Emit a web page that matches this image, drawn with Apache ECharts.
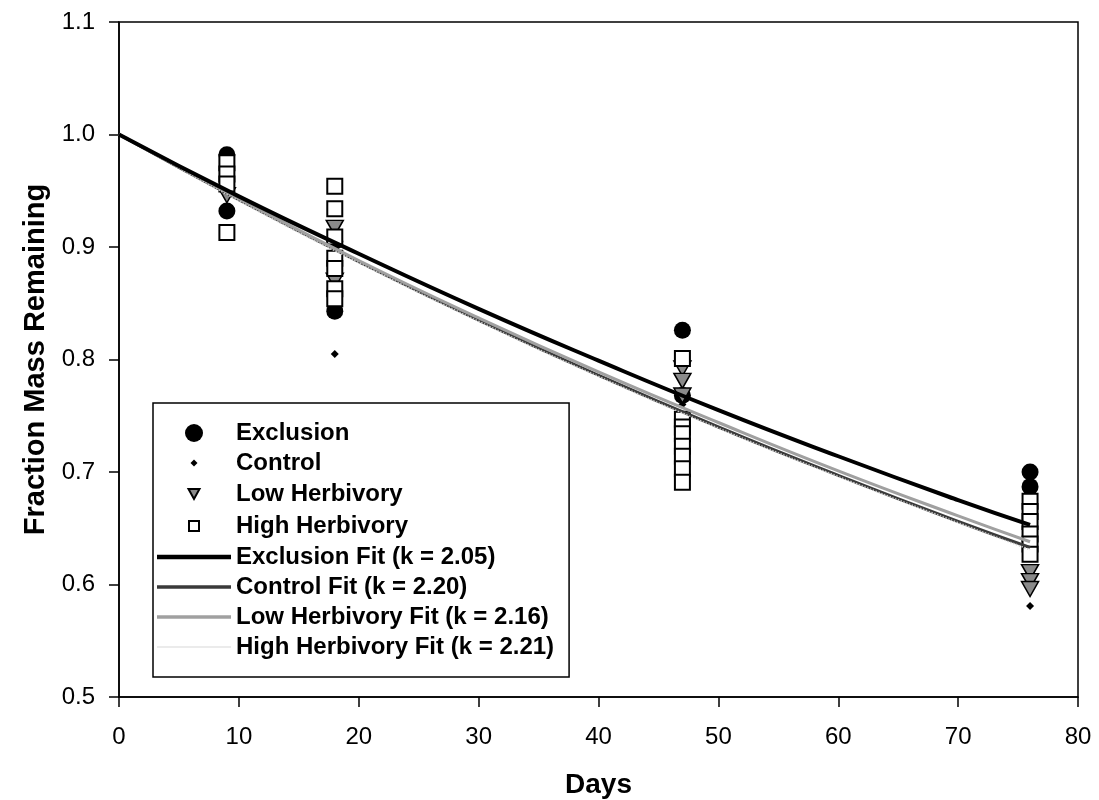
<!DOCTYPE html>
<html>
<head>
<meta charset="utf-8">
<script src="https://cdn.jsdelivr.net/npm/echarts@6/dist/echarts.min.js"></script>
<style>
html,body{margin:0;padding:0;background:#fff;}
#chart{width:1099px;height:800px;}
</style>
</head>
<body>
<div id="chart"></div>
<script>
// ---- data ----
var seriesNames = ['Exclusion', 'Control', 'Low Herbivory', 'High Herbivory',
  'Exclusion Fit (k = 2.05)', 'Control Fit (k = 2.20)', 'Low Herbivory Fit (k = 2.16)', 'High Herbivory Fit (k = 2.21)'];

var exclusionDays = [9, 9, 18, 18, 47, 47, 76, 76];
var exclusionMass = [0.982, 0.932, 0.905, 0.843, 0.826, 0.768, 0.700, 0.687];

var controlDays = [9, 18, 47, 76];
var controlMass = [0.955, 0.805, 0.760, 0.581];

var lowDays = [9, 18, 18, 47, 47, 47, 76, 76, 76];
var lowMass = [0.946, 0.917, 0.870, 0.792, 0.781, 0.768, 0.611, 0.603, 0.596];

var highDays = [9, 9, 9, 9, 18, 18, 18, 18, 18, 18, 18, 47, 47, 47, 47, 47, 47, 47, 47, 76, 76, 76, 76, 76, 76];
var highMass = [0.975, 0.965, 0.956, 0.913,
  0.954, 0.934, 0.909, 0.890, 0.881, 0.863, 0.854,
  0.801, 0.747, 0.740, 0.734, 0.723, 0.714, 0.703, 0.691,
  0.674, 0.665, 0.656, 0.645, 0.636, 0.627];

var fitDays = [0, 10, 20, 30, 40, 50, 60, 70, 76];
var exclusionFit = [1.000, 0.945, 0.894, 0.845, 0.799, 0.755, 0.714, 0.675, 0.653];
var controlFit   = [1.000, 0.942, 0.887, 0.835, 0.786, 0.740, 0.697, 0.656, 0.633];
var lowFit       = [1.000, 0.943, 0.888, 0.837, 0.789, 0.744, 0.701, 0.661, 0.638];
var highFit      = [1.000, 0.941, 0.886, 0.834, 0.785, 0.739, 0.696, 0.655, 0.631];

var xTicks = [0, 10, 20, 30, 40, 50, 60, 70, 80];
var yTicks = ['0.5', '0.6', '0.7', '0.8', '0.9', '1.0', '1.1'];

function pairs(xs, ys) { return xs.map(function (x, i) { return [x, ys[i]]; }); }

var FONT = "'Liberation Sans', Arial, sans-serif";
var triPath = 'path://M0,0 L20,0 L10,17 Z';

var chart = echarts.init(document.getElementById('chart'), null, { renderer: 'canvas' });

chart.setOption({
  animation: false,
  backgroundColor: '#ffffff',
  grid: {
    left: 119, right: 21, top: 22, bottom: 103,
    outerBoundsMode: 'none', containLabel: false,
    show: true, borderColor: '#000', borderWidth: 1.5, backgroundColor: 'transparent'
  },
  xAxis: {
    type: 'value', min: xTicks[0], max: xTicks[xTicks.length - 1], interval: 10,
    name: 'Days', nameLocation: 'middle', nameGap: 74,
    nameTextStyle: { fontFamily: FONT, fontSize: 28, fontWeight: 'bold', color: '#000' },
    axisLine: { show: true, onZero: false, lineStyle: { color: '#000', width: 1.5 } },
    axisTick: { show: true, inside: false, length: 10, lineStyle: { color: '#000', width: 1.5 } },
    axisLabel: { fontFamily: FONT, fontSize: 24, color: '#000', margin: 28 },
    splitLine: { show: false }
  },
  yAxis: {
    type: 'value', min: 0.5, max: 1.1, interval: 0.1,
    name: 'Fraction Mass Remaining', nameLocation: 'middle', nameGap: 67,
    nameTextStyle: { fontFamily: FONT, fontSize: 29, fontWeight: 'bold', color: '#000' },
    axisLine: { show: true, onZero: false, lineStyle: { color: '#000', width: 1.5 } },
    axisTick: { show: true, inside: false, length: 10, lineStyle: { color: '#000', width: 1.5 } },
    axisLabel: {
      fontFamily: FONT, fontSize: 24, color: '#000', margin: 24,
      formatter: function (v) {
        var s = v.toFixed(1);
        return yTicks.indexOf(s) >= 0 ? s : '';
      }
    },
    splitLine: { show: false }
  },
  legend: {
    orient: 'vertical', left: 153, top: 403,
    padding: [18, 15, 18, 4],
    backgroundColor: '#fff', borderColor: '#000', borderWidth: 1.5,
    itemWidth: 74, itemHeight: 24, itemGap: 6,
    textStyle: { fontFamily: FONT, fontSize: 24, fontWeight: 'bold', color: '#000', lineHeight: 24 },
    data: [
      { name: seriesNames[0], icon: 'path://M0,0 M24,24 M3,12 A9,9 0 1,1 21,12 A9,9 0 1,1 3,12 Z' },
      { name: seriesNames[1], icon: 'path://M0,0 M24,24 M12,8.5 L15.5,12 L12,15.5 L8.5,12 Z' },
      { name: seriesNames[2], icon: 'path://M0,0 M24,24 M6.5,7 L17.5,7 L12,17 Z' },
      { name: seriesNames[3], icon: 'path://M0,0 M24,24 M7,7 L17,7 L17,17 L7,17 Z' },
      { name: seriesNames[4], icon: 'path://M0,0 L68,0 L68,4 L0,4 Z', itemStyle: { color: '#000', borderWidth: 0 } },
      { name: seriesNames[5], icon: 'path://M0,0 L68,0 L68,3 L0,3 Z', itemStyle: { color: '#3a3a3a', borderWidth: 0 } },
      { name: seriesNames[6], icon: 'path://M0,0 L68,0 L68,3 L0,3 Z', itemStyle: { color: '#a0a0a0', borderWidth: 0 } },
      { name: seriesNames[7], icon: 'path://M0,0 L68,0 L68,1.5 L0,1.5 Z', itemStyle: { color: '#e4e4e4', borderWidth: 0 } }
    ]
  },
  series: [
    {
      name: seriesNames[0], type: 'scatter', symbol: 'circle', symbolSize: 17,
      itemStyle: { color: '#000', borderColor: '#000', borderWidth: 0, opacity: 1 },
      data: pairs(exclusionDays, exclusionMass), z: 3
    },
    {
      name: seriesNames[1], type: 'scatter', symbol: 'diamond', symbolSize: 8,
      itemStyle: { color: '#000', opacity: 1 },
      data: pairs(controlDays, controlMass), z: 3
    },
    {
      name: seriesNames[2], type: 'scatter', symbol: triPath, symbolSize: [17, 15],
      itemStyle: { color: '#8a8a8a', borderColor: '#000', borderWidth: 1.5, opacity: 1 },
      data: pairs(lowDays, lowMass), z: 3
    },
    {
      name: seriesNames[3], type: 'scatter', symbol: 'rect', symbolSize: 15,
      itemStyle: { color: '#fff', borderColor: '#000', borderWidth: 2, opacity: 1 },
      data: pairs(highDays, highMass), z: 3
    },
    {
      name: seriesNames[4], type: 'line', smooth: true, symbol: 'none',
      lineStyle: { color: '#000', width: 4 }, itemStyle: { color: '#000' },
      data: pairs(fitDays, exclusionFit), z: 8
    },
    {
      name: seriesNames[5], type: 'line', smooth: true, symbol: 'none',
      lineStyle: { color: '#3a3a3a', width: 3 }, itemStyle: { color: '#3a3a3a' },
      data: pairs(fitDays, controlFit), z: 4
    },
    {
      name: seriesNames[6], type: 'line', smooth: true, symbol: 'none',
      lineStyle: { color: '#a0a0a0', width: 3 }, itemStyle: { color: '#a0a0a0' },
      data: pairs(fitDays, lowFit), z: 5
    },
    {
      name: seriesNames[7], type: 'line', smooth: true, symbol: 'none',
      lineStyle: { color: '#c8c8c8', width: 1.5, type: 'dotted' }, itemStyle: { color: '#e4e4e4' },
      data: pairs(fitDays, highFit), z: 6
    }
  ]
});
</script>
</body>
</html>
